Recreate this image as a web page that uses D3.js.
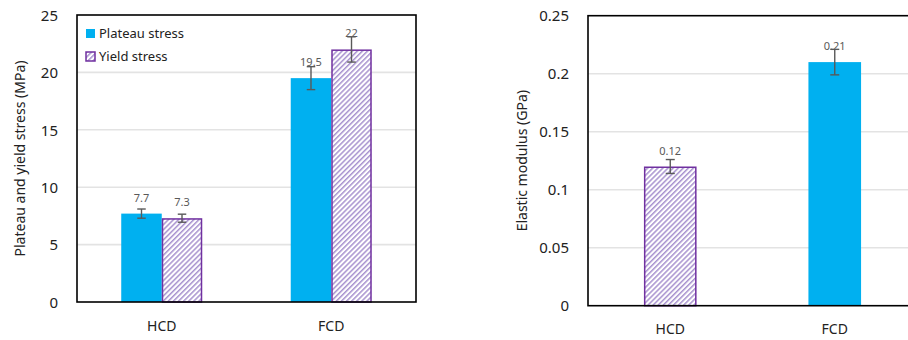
<!DOCTYPE html>
<html><head><meta charset="utf-8">
<script src="https://cdn.jsdelivr.net/npm/d3@7"></script>
<style>body{margin:0;background:#fff}svg{display:block}text{font-family:"Noto Sans",sans-serif}</style>
</head><body><svg id="c" width="908" height="340"></svg>
<script>
// ---- data ----
const categories = ["HCD", "FCD"];
const seriesNames = ["Plateau stress", "Yield stress"];
const plateauStress = [7.7, 19.5];
const plateauErr = [0.4, 1.0];
const yieldStress = [7.3, 22];
const yieldErr = [0.35, 1.1];
const stressTicks = [0, 5, 10, 15, 20, 25];
const modulus = [0.12, 0.21];
const modulusErr = [0.006, 0.011];
const modulusStyle = ["hatch", "solid"];
const modulusTicks = [0, 0.05, 0.1, 0.15, 0.2, 0.25];

const BLUE = "#00B0F0", PURPLE = "#7030A0", HATCH = "#A892CF", GRAY = "#595959";
const svg = d3.select("#c");
const defs = svg.append("defs");
const P = 3.6;
const pat = defs.append("pattern").attr("id", "hatch").attr("patternUnits", "userSpaceOnUse")
  .attr("width", P).attr("height", P).attr("patternTransform", "rotate(45)");
pat.append("rect").attr("width", P).attr("height", P).attr("fill", "#fff");
pat.append("rect").attr("x", 0).attr("width", 1.5).attr("height", P).attr("fill", HATCH);

function frame(g, x0, x1, y0, y1, ticks, fmt, title, titleX) {
  const y = d3.scaleLinear().domain([ticks[0], ticks[ticks.length - 1]]).range([y1, y0]);
  g.selectAll(".grid").data(ticks.slice(1, -1)).join("line")
    .attr("x1", x0).attr("x2", x1).attr("y1", d => y(d)).attr("y2", d => y(d))
    .attr("stroke", "#e3e3e3").attr("stroke-width", 1.6);
  const ax = d3.axisLeft(y).tickValues(ticks).tickSize(0).tickPadding(0).tickFormat(fmt);
  const ag = g.append("g").attr("transform", `translate(${x0 - 19},0)`).call(ax);
  ag.select(".domain").remove();
  ag.selectAll("text").attr("font-size", 15).attr("fill", "#222").attr("font-family", "Noto Sans").attr("dy", "0.35em");
  g.append("text").attr("transform", `translate(${titleX},${(y0 + y1) / 2}) rotate(-90)`)
    .attr("text-anchor", "middle").attr("font-size", 14).attr("fill", "#222").attr("dy", "0.35em").text(title);
  return y;
}
function border(g, x0, x1, y0, y1) {
  g.append("rect").attr("x", x0).attr("y", y0).attr("width", x1 - x0).attr("height", y1 - y0)
    .attr("fill", "none").attr("stroke", "#000").attr("stroke-width", 1.6);
}
function errBar(g, cx, y, v, e, cap) {
  g.append("line").attr("x1", cx).attr("x2", cx).attr("y1", y(v + e)).attr("y2", y(v - e)).attr("stroke", GRAY).attr("stroke-width", 1.4);
  [v + e, v - e].forEach(t => g.append("line").attr("x1", cx - cap / 2).attr("x2", cx + cap / 2)
    .attr("y1", y(t)).attr("y2", y(t)).attr("stroke", GRAY).attr("stroke-width", 1.4));
}
function label(g, cx, y, v, txt) {
  g.append("text").attr("x", cx).attr("y", y(v) - 12).attr("text-anchor", "middle")
    .attr("font-size", 11).attr("fill", GRAY).text(txt);
}

// ---- left chart ----
{
  const L = 77, R = 416, T = 15, B = 302;
  const g = svg.append("g");
  const y = frame(g, L, R, T, B, stressTicks, d => d, "Plateau and yield stress (MPa)", 20);
  const x0 = d3.scaleBand().domain(categories).range([L, R]);
  const gw = x0.bandwidth() * 0.478;
  const x1 = d3.scaleBand().domain(seriesNames).range([-gw / 2, gw / 2]);
  const vals = [plateauStress, yieldStress], errs = [plateauErr, yieldErr];
  categories.forEach((c, i) => {
    const cx = x0(c) + x0.bandwidth() / 2;
    seriesNames.forEach((s, j) => {
      const bx = cx + x1(s), v = vals[j][i];
      const r = g.append("rect").attr("x", bx).attr("y", y(v)).attr("width", x1.bandwidth()).attr("height", y(0) - y(v));
      if (j === 0) r.attr("fill", BLUE);
      else r.attr("fill", "url(#hatch)").attr("stroke", PURPLE).attr("stroke-width", 1.5)
        .attr("x", bx + 0.75).attr("width", x1.bandwidth() - 1.5).attr("y", y(v) + 0.75).attr("height", y(0) - y(v) - 0.75);
    });
    seriesNames.forEach((s, j) => {
      const bcx = cx + x1(s) + x1.bandwidth() / 2;
      errBar(g, bcx, y, vals[j][i], errs[j][i], 8.5);
      label(g, bcx, y, vals[j][i], String(vals[j][i]));
    });
    g.append("text").attr("x", cx).attr("y", 326).attr("dy", "0.35em").attr("text-anchor", "middle")
      .attr("font-size", 14).attr("fill", "#222").text(c);
  });
  border(g, L, R, T, B);
  const lg = g.append("g");
  seriesNames.forEach((s, j) => {
    const yy = 33.5 + j * 23;
    const r = lg.append("rect").attr("x", 86).attr("y", yy - 4.5).attr("width", 9).attr("height", 9);
    if (j === 0) r.attr("fill", BLUE);
    else r.attr("fill", "url(#hatch)").attr("stroke", PURPLE).attr("stroke-width", 1.5);
    lg.append("text").attr("x", 99).attr("y", yy).attr("dy", "0.35em").attr("font-size", 13).attr("fill", "#222").text(s);
  });
}

// ---- right chart ----
{
  const L = 588, R = 917, T = 15.7, B = 305.7;
  const g = svg.append("g");
  const y = frame(g, L, R, T, B, modulusTicks, d => String(d), "Elastic modulus (GPa)", 522);
  const x = d3.scaleBand().domain(categories).range([L, R]);
  const bw = x.bandwidth() * 0.32;
  categories.forEach((c, i) => {
    const cx = x(c) + x.bandwidth() / 2, v = modulus[i];
    const r = g.append("rect").attr("x", cx - bw / 2).attr("y", y(v)).attr("width", bw).attr("height", y(0) - y(v));
    if (modulusStyle[i] === "solid") r.attr("fill", BLUE);
    else r.attr("fill", "url(#hatch)").attr("stroke", PURPLE).attr("stroke-width", 1.5)
      .attr("x", cx - bw / 2 + 0.75).attr("width", bw - 1.5).attr("y", y(v) + 0.75).attr("height", y(0) - y(v) - 0.75);
    errBar(g, cx, y, v, modulusErr[i], 9);
    label(g, cx, y, v, String(v));
    g.append("text").attr("x", cx).attr("y", 329).attr("dy", "0.35em").attr("text-anchor", "middle")
      .attr("font-size", 14).attr("fill", "#222").text(c);
  });
  border(g, L, R, T, B);
}
</script></body></html>
